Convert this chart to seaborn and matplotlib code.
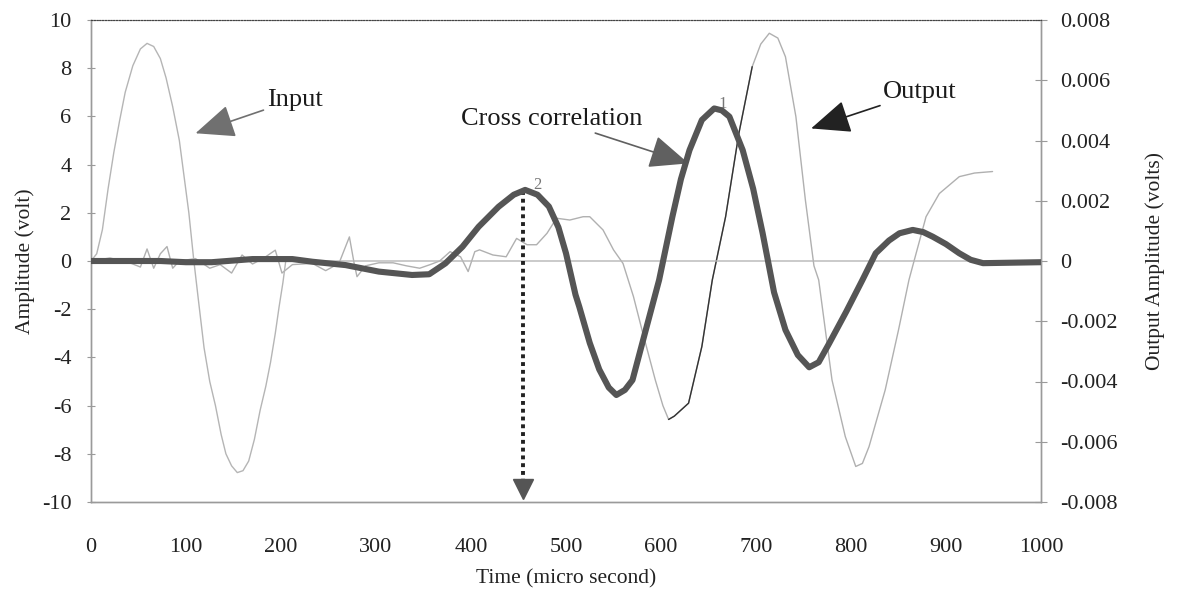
import numpy as np
import pandas as pd
import matplotlib
matplotlib.use("Agg")
import matplotlib.pyplot as plt
import seaborn as sns

# input signal (left axis, volt)
input_time = [0, 6, 12, 18, 24, 30, 36, 44, 52, 59, 66, 73, 79, 86, 93, 98, 103, 108,
              113, 119, 125, 131, 137, 142, 148, 154, 160, 166, 172, 178, 184, 189,
              194, 198, 202, 205, 215, 1000]
input_amp = [0, 0.3, 1.3, 3.0, 4.5, 5.8, 7.0, 8.1, 8.8, 9.03, 8.9, 8.4, 7.6, 6.4, 5.0,
             3.5, 2.0, 0.1, -1.6, -3.6, -5.0, -6.0, -7.2, -8.0, -8.5, -8.78, -8.7, -8.3,
             -7.4, -6.2, -5.2, -4.2, -3.0, -1.9, -0.9, 0, 0, 0]

# output signal (right axis, volts)
output_time = [0, 20, 40, 52, 59, 66, 73, 80, 86, 93, 110, 125, 136, 148, 159, 170, 182,
               194, 201, 212, 233, 247, 261, 268, 272, 277, 280, 289,
               303, 318, 332, 346, 357, 367, 378, 389, 397, 404,
               409, 423, 437, 448, 459, 469, 480, 490, 504, 518,
               525, 539, 550, 560, 571, 580, 594, 602, 608, 614,
               629, 643, 654, 668, 682, 696, 705, 714, 723, 731,
               742, 752, 761, 766, 780, 794, 805, 812, 819, 836,
               850, 861, 865, 879, 893, 914, 930, 949]
output_amp = [0.0, 0.0001, -0.00005, -0.0002, 0.0004, -0.00024, 0.00024, 0.00048,
              -0.00024, 0.0, 0.00008, -0.00024, -0.00012, -0.0004, 0.0002, -0.0001,
              0.0001, 0.00036, -0.0004, -0.00012, -0.00008, -0.00032, -0.00008, 0.00048,
              0.0008, -0.00008, -0.00052, -0.00016,
              -0.00006, -0.00006, -0.00016, -0.00024, -0.00012, 0.0, 0.00031, 0.00014,
              -0.00035, 0.00031,
              0.00037, 0.0002, 0.00014, 0.00075, 0.00054, 0.00054, 0.00092, 0.00142,
              0.00136, 0.00147,
              0.00147, 0.00103, 0.00037, -0.00008, -0.00118, -0.00229, -0.00395,
              -0.0048, -0.00526, -0.00515,
              -0.00472, -0.00284, -0.00063, 0.00147, 0.00424, 0.00645, 0.0072, 0.00756,
              0.0074, 0.00678,
              0.00479, 0.00202, -0.00016, -0.00063, -0.00395, -0.00583, -0.00682,
              -0.00672, -0.00616, -0.00428,
              -0.00229, -0.00063, -0.00016, 0.00147, 0.00224, 0.0028, 0.00292, 0.00297]

# cross correlation (left axis)
xcorr_time = [0, 40, 73, 100, 127, 170, 212, 233, 268, 303, 338, 356, 373, 391, 408,
              429, 445, 457, 470, 482, 492, 500, 510, 514, 525, 535, 545, 553, 562, 570,
              584, 598, 612, 621, 630, 643, 656, 664, 672, 686, 697, 707, 719, 731, 744,
              756, 766, 777, 795, 812, 826, 840, 851, 865, 876, 886, 900, 914, 926, 939,
              1000]
xcorr_amp = [0, 0, 0, -0.05, -0.05, 0.08, 0.08, -0.03, -0.17, -0.44, -0.58, -0.55, -0.1,
             0.59, 1.42, 2.25, 2.75, 2.95, 2.75, 2.26, 1.4, 0.32, -1.4, -1.9, -3.4, -4.5,
             -5.25, -5.56, -5.35, -4.94, -2.86, -0.79, 1.84, 3.4, 4.6, 5.85, 6.33, 6.25,
             5.99, 4.6, 3.0, 1.15, -1.3, -2.86, -3.9, -4.41, -4.2, -3.42, -2.1, -0.79,
             0.32, 0.85, 1.15, 1.29, 1.2, 1.01, 0.7, 0.32, 0.05, -0.09, -0.05]

left_ticks = [-10, -8, -6, -4, -2, 0, 2, 4, 6, 8, 10]
left_labels = ["-10", "-8", "-6", "-4", "-2", "0", "2", "4", "6", "8", "10"]
right_ticks = [-0.008, -0.006, -0.004, -0.002, 0, 0.002, 0.004, 0.006, 0.008]
right_labels = ["-0.008", "-0.006", "-0.004", "-0.002", "0", "0.002", "0.004", "0.006", "0.008"]
time_ticks = [0, 100, 200, 300, 400, 500, 600, 700, 800, 900, 1000]

sns.set_style("white")
plt.rcParams["font.family"] = ["Liberation Serif", "DejaVu Serif"]
plt.rcParams["axes.unicode_minus"] = False

df_in = pd.DataFrame({"t": input_time, "v": input_amp})
df_out = pd.DataFrame({"t": output_time, "v": output_amp})
df_xc = pd.DataFrame({"t": xcorr_time, "v": xcorr_amp})

fig = plt.figure(figsize=(11.83, 5.91), dpi=100)
ax = fig.add_axes([91 / 1183, 89 / 591, 950 / 1183, 482 / 591])
ax2 = ax.twinx()

sns.lineplot(data=df_in, x="t", y="v", ax=ax, color="#b5b5b5", lw=1.0, sort=False)
sns.lineplot(data=df_out, x="t", y="v", ax=ax2, color="#b0b0b0", lw=1.0, sort=False)
# darker stretch of the scanned output trace
dark = df_out[(df_out.t >= 606) & (df_out.t <= 700)]
sns.lineplot(data=dark, x="t", y="v", ax=ax2, color="#333333", lw=1.0, sort=False)
sns.lineplot(data=df_xc, x="t", y="v", ax=ax, color="#555555", lw=4.4, sort=False,
             zorder=5, solid_joinstyle="round", solid_capstyle="round")

ax.set_zorder(ax2.get_zorder() + 1)
ax.patch.set_visible(False)

ax.set_xlim(0, 1000)
ax.set_ylim(-10, 10)
ax2.set_ylim(-0.008, 0.008)
ax.set_xticks(time_ticks)
ax.set_xticklabels([str(t) for t in time_ticks])
ax.set_yticks(left_ticks)
ax.set_yticklabels(left_labels)
ax2.set_yticks(right_ticks)
ax2.set_yticklabels(right_labels)

ax.set_xlabel("Time (micro second)", fontsize=15.5, color="#222222", labelpad=9)
ax.set_ylabel("Amplitude (volt)", fontsize=15.5, color="#222222", labelpad=5)
ax2.set_ylabel("Output Amplitude (volts)", fontsize=15.5, color="#222222", labelpad=20)

for a in (ax, ax2):
    for s in a.spines.values():
        s.set_color("#9a9a9a")
        s.set_linewidth(1.0)
    a.spines["top"].set_color("#444444")
    a.spines["top"].set_linewidth(0.8)
    a.spines["top"].set_linestyle((0, (1, 1.5)))
ax.tick_params(axis="both", direction="inout", length=6, width=0.8, color="#9a9a9a",
               labelsize=16, labelcolor="#222222")
ax.tick_params(axis="y", pad=11, right=False)
ax.tick_params(axis="x", pad=23)
ax2.tick_params(axis="y", direction="inout", length=8, width=0.8, color="#9a9a9a",
                labelsize=16, labelcolor="#222222", pad=10)

# dotted drop arrow from peak 2
ax.plot([455, 455], [2.9, -9.3], ls=(0, (1, 1)), color="#222222", lw=2.8)
ax.plot([455], [-9.45], marker="v", ms=15, color="#555555", zorder=6)

# peak numbers
ax.text(465, 3.0, "2", fontsize=12, color="#777777")
ax.text(660, 6.35, "1", fontsize=12, color="#777777")

# annotations
arrow_kw = dict(arrowstyle="-|>,head_length=1.3,head_width=0.55", lw=1.2, shrinkA=0, shrinkB=0)
ax.annotate("Input", xy=(110, 5.3), xytext=(185, 6.7), fontsize=19, color="#1a1a1a",
            va="center", ha="left",
            arrowprops=dict(color="#707070", **arrow_kw))
ax.annotate("Cross correlation", xy=(629, 4.05), xytext=(580, 5.9), fontsize=19,
            color="#1a1a1a", va="center", ha="right",
            arrowprops=dict(color="#606060", **arrow_kw))
ax.annotate("Output", xy=(758, 5.5), xytext=(834, 7.0), fontsize=19, color="#1a1a1a",
            va="center", ha="left",
            arrowprops=dict(color="#222222", **arrow_kw))

fig.savefig("out.png", dpi=100)
plt.close(fig)
